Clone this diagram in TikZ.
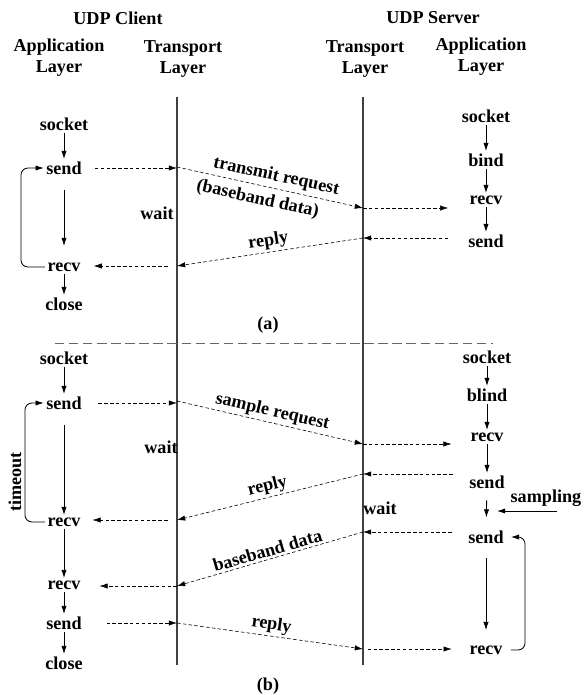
\documentclass[tikz,border=0pt]{standalone}
\usepackage{fontspec}
\setmainfont{Liberation Serif}
\usetikzlibrary{arrows.meta, calc}
\tikzset{
  lbl/.style={font=\fontsize{15.5}{18}\selectfont\bfseries, inner sep=2pt},
  flow/.style={-{Latex[length=7pt,width=4.5pt]}, line width=0.7pt},
  msg/.style={densely dashed, -{Latex[length=7pt,width=4.5pt]}, line width=0.5pt},
  lifeline/.style={line width=0.9pt, black!75},
}

\begin{document}
\begin{tikzpicture}[x=0.03cm, y=-0.03cm, every node/.style={lbl}]
\useasboundingbox (0,0) rectangle (583,695);
% headers
\node (udpclient) at (118,18) {UDP Client};
\node (udpserver) at (433,18) {UDP Server};
\node[align=center] (capp) at (59,58) {Application\\Layer};
\node[align=center] (ctrans) at (183,59) {Transport\\Layer};
\node[align=center] (strans) at (365,59) {Transport\\Layer};
\node[align=center] (sapp) at (481,57) {Application\\Layer};
% lifelines
\coordinate (ctop) at (177,97);
\coordinate (cbot) at (177,665);
\coordinate (stop) at (363,97);
\coordinate (sbot) at (363,665);
\draw[lifeline] (ctop) -- (cbot);
\draw[lifeline] (stop) -- (sbot);
\coordinate (sepl) at (55,343);
\coordinate (sepr) at (493,343);
\draw[black!60, dash pattern=on 8pt off 4pt, line width=0.7pt] (sepl) -- (sepr);

% (a) client side
\node (a-socket) at (64,124) {socket};
\node (a-send) at (64,168) {send};
\node (a-recv) at (64,267) {recv};
\node (a-close) at (64,304) {close};
\draw[flow] (a-socket) -- (a-send);
\draw[flow, shorten <=11pt, shorten >=12pt] (a-send) -- (a-recv);
\draw[flow] (a-recv) -- (a-close);
\draw[flow, rounded corners=6pt] (a-recv.west) -- ++(-24,0) |- (a-send.west);
\node (a-wait) at (157,213) {wait};
% (a) server side
\node (a-ssocket) at (486,116) {socket};
\node (a-bind) at (486,160) {bind};
\node (a-srecv) at (486,200) {recv};
\node (a-ssend) at (486,241) {send};
\draw[flow] (a-ssocket) -- (a-bind);
\draw[flow] (a-bind) -- (a-srecv);
\draw[flow] (a-srecv) -- (a-ssend);
% (a) messages
\coordinate (a-c1) at (177,167);
\coordinate (a-s1) at (363,208);
\coordinate (a-s2) at (363,238);
\coordinate (a-c2) at (177,266);
\draw[msg, shorten <=9pt] (a-send) -- (a-send -| a-c1);
\draw[msg] (a-c1) -- node[above=1pt, sloped, pos=0.52] {transmit request}
  node[below=3pt, sloped, pos=0.45] {(baseband data)} (a-s1);
\draw[msg, shorten >=16pt] (a-s1) -- (a-s1 -| a-srecv.west);
\draw[msg, shorten <=15pt] (a-s2 -| a-ssend.west) -- (a-s2);
\draw[msg] (a-s2) -- node[above, sloped] {reply} (a-c2);
\draw[msg, shorten <=8pt, shorten >=9pt] (a-c2) -- (a-c2 -| a-recv.east);
\node (a-label) at (268,325) {(a)};

% (b) client side
\node (b-socket) at (64,358) {socket};
\node (b-send) at (64,403) {send};
\node (b-recv) at (64,522) {recv};
\node (b-recv2) at (64,585) {recv};
\node (b-send2) at (64,623) {send};
\node (b-close) at (64,663) {close};
\draw[flow] (b-socket) -- (b-send);
\draw[flow, shorten <=11pt] (b-send) -- (b-recv);
\draw[flow] (b-recv) -- (b-recv2);
\draw[flow] (b-recv2) -- (b-send2);
\draw[flow] (b-send2) -- (b-close);
\draw[flow, rounded corners=6pt] (b-recv.west) -- ++(-20,0) |- (b-send.west);
\node[rotate=90] (timeout) at (15,482) {timeout};
\node (b-wait) at (161,447) {wait};
% (b) server side
\node (b-ssocket) at (487,357) {socket};
\node (b-blind) at (487,395) {blind};
\node (b-srecv) at (487,437) {recv};
\node (b-ssend) at (487,482) {send};
\node (b-ssend2) at (486,537) {send};
\node (b-srecv2) at (486,650) {recv};
\draw[flow] (b-ssocket) -- (b-blind);
\draw[flow] (b-blind) -- (b-srecv);
\draw[flow] (b-srecv) -- (b-ssend);
\draw[flow, shorten <=8pt, shorten >=9pt] (b-ssend) -- (b-ssend2);
\draw[flow, shorten <=10pt, shorten >=11pt] (b-ssend2) -- (b-srecv2);
\draw[flow, rounded corners=6pt, shorten <=5pt, shorten >=4pt] (b-srecv2.east) -- ++(20,0) |- (b-ssend2.east);
\node (sampling) at (546,498) {sampling};
\coordinate (samp-a) at (557,511);
\coordinate (samp-b) at (497,511);
\draw[flow] (samp-a) -- (samp-b);
\node (b-swait) at (380,508) {wait};
% (b) messages
\coordinate (b-c1) at (177,401);
\coordinate (b-s1) at (363,444);
\coordinate (b-s2) at (363,474);
\coordinate (b-c2) at (177,520);
\coordinate (b-s3) at (363,532);
\coordinate (b-c3) at (177,586);
\coordinate (b-c4) at (177,623);
\coordinate (b-s4) at (363,649);
\draw[msg, shorten <=12pt] (b-send) -- (b-send -| b-c1);
\draw[msg] (b-c1) -- node[above, sloped] {sample request} (b-s1);
\draw[msg, shorten >=14pt] (b-s1) -- (b-s1 -| b-srecv.west);
\draw[msg, shorten <=12pt] (b-s2 -| b-ssend.west) -- (b-s2);
\draw[msg] (b-s2) -- node[above, sloped] {reply} (b-c2);
\draw[msg, shorten <=8pt, shorten >=8pt] (b-c2) -- (b-c2 -| b-recv.east);
\draw[msg, shorten <=12pt] (b-s3 -| b-ssend2.west) -- (b-s3);
\draw[msg] (b-s3) -- node[above, sloped] {baseband data} (b-c3);
\draw[msg, shorten >=14pt] (b-c3) -- (b-c3 -| b-recv2.east);
\draw[msg, shorten <=19pt] (b-send2) -- (b-send2 -| b-c4);
\draw[msg] (b-c4) -- node[above, sloped] {reply} (b-s4);
\draw[msg, shorten <=4pt, shorten >=13pt] (b-s4) -- (b-s4 -| b-srecv2.west);
\node (b-label) at (268,686) {(b)};
\end{tikzpicture}
\end{document}
